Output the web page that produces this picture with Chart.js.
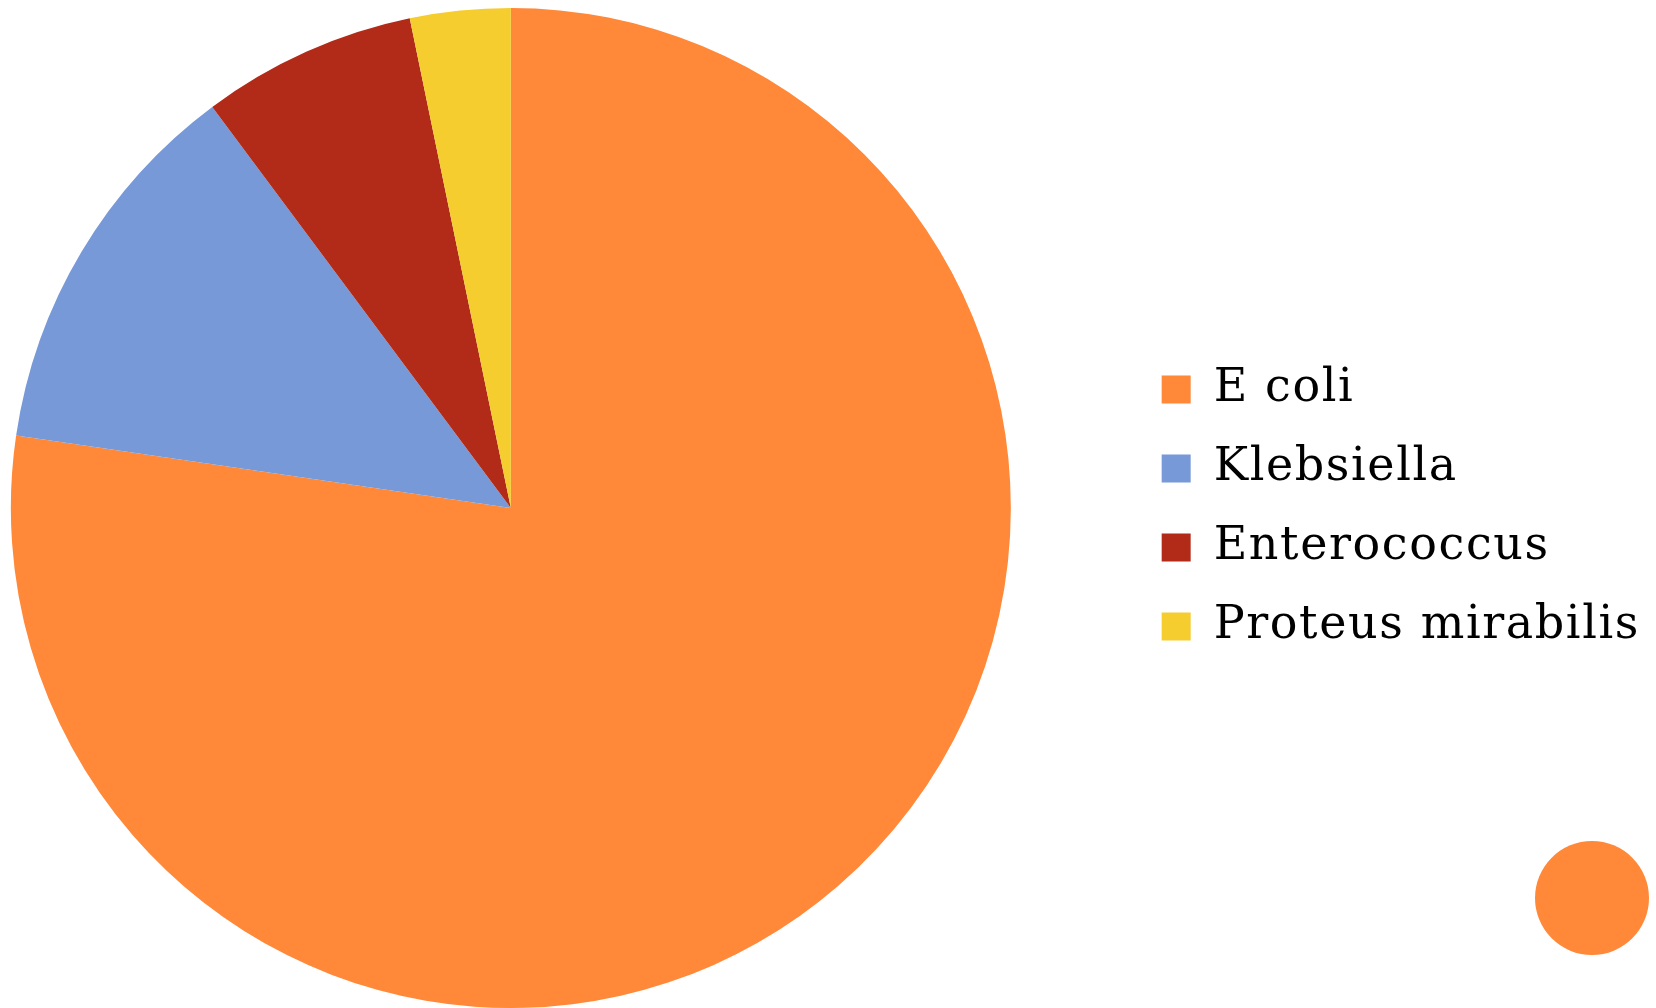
<!DOCTYPE html>
<html>
<head>
<meta charset="utf-8">
<script src="https://cdn.jsdelivr.net/npm/chart.js@4/dist/chart.umd.min.js"></script>
<style>
  html, body { margin: 0; padding: 0; background: #ffffff; }
  #wrap { width: 1656px; height: 1008px; position: relative; }
</style>
</head>
<body>
<div id="wrap"><canvas id="c"></canvas></div>
<script>
const categories = ['E coli', 'Klebsiella', 'Enterococcus', 'Proteus mirabilis'];
const counts = [167, 27, 15, 7];
const sliceColors = ['#FF8839', '#7799D8', '#B22B18', '#F5CD2F'];

const spacingPlugin = {
  id: 'letterSpacing',
  beforeLayout(chart) { chart.ctx.letterSpacing = '1.6px'; },
  beforeDraw(chart) { chart.ctx.letterSpacing = '1.6px'; }
};

const dotPlugin = {
  id: 'cornerDot',
  afterDraw(chart) {
    const ctx = chart.ctx;
    ctx.save();
    ctx.fillStyle = sliceColors[0];
    ctx.beginPath();
    ctx.arc(chart.width - 64, chart.height - 110, 57, 0, Math.PI * 2);
    ctx.fill();
    ctx.restore();
  }
};

new Chart(document.getElementById('c'), {
  type: 'pie',
  data: {
    labels: categories,
    datasets: [{
      data: counts,
      backgroundColor: sliceColors,
      borderWidth: 0,
      hoverOffset: 0
    }]
  },
  options: {
    responsive: true,
    maintainAspectRatio: false,
    animation: false,
    events: [],
    layout: { padding: { left: 0, top: 8, right: 6, bottom: 0 } },
    plugins: {
      tooltip: { enabled: false },
      title: {
        display: true,
        text: ' ',
        position: 'right',
        weight: 500,
        fullSize: false,
        color: 'rgba(0,0,0,0)',
        font: { size: 10, lineHeight: 1.2 },
        padding: { top: 47, bottom: 48 }
      },
      legend: {
        position: 'right',
        align: 'center',
        maxWidth: 700,
        labels: {
          boxWidth: 29,
          boxHeight: 28,
          padding: 33,
          color: '#000000',
          font: { family: '"DejaVu Serif", serif', size: 46 }
        }
      }
    }
  },
  plugins: [spacingPlugin, dotPlugin]
});
</script>
</body>
</html>
